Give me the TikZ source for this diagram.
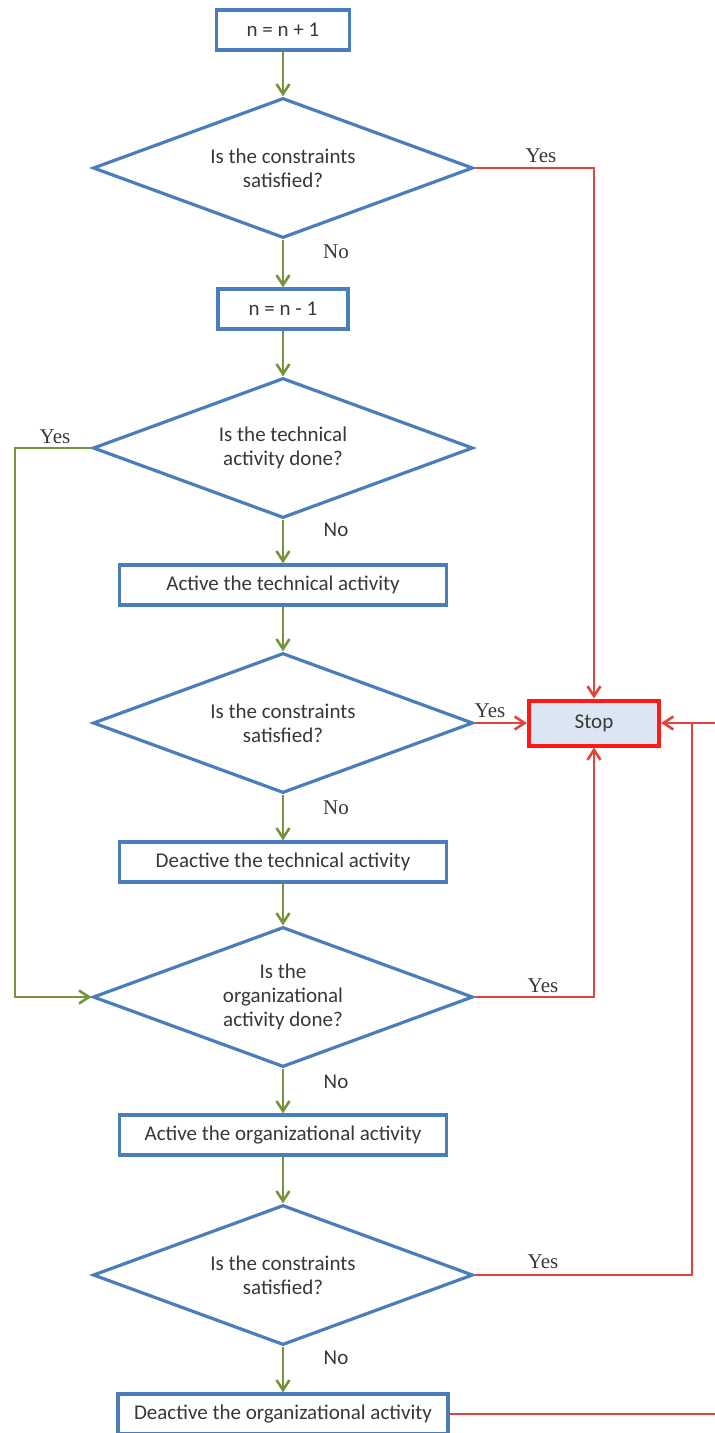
\documentclass[tikz,border=0pt]{standalone}
\usepackage{fontspec}
\setmainfont{Carlito}
\newfontfamily\lblserif{Liberation Serif}
\usetikzlibrary{arrows.meta,shapes.geometric}
\definecolor{cAzul}{HTML}{4A7EBB}
\definecolor{cVerd}{HTML}{77933C}
\definecolor{cVerm}{HTML}{E0443A}
\definecolor{cStop}{HTML}{FF1A1A}
\definecolor{cFundo}{HTML}{DCE6F2}
\definecolor{cTexto}{HTML}{383838}
\begin{document}
\begin{tikzpicture}[
  x=1pt,y=1pt,font=\fontsize{21}{24}\selectfont,text=cTexto,
  proc/.style={draw=cAzul,fill=white,line width=3.2pt,align=center,
               minimum height=40pt,inner sep=2pt},
  dec/.style={diamond,draw=cAzul,fill=white,line width=3.2pt,align=center,
              aspect=2.7,inner sep=0pt,minimum width=380pt,minimum height=140pt},
  stopbox/.style={draw=cStop,fill=cFundo,line width=4pt,align=center,
                  minimum width=130pt,minimum height=45pt},
  gar/.style={-{Straight Barb[length=10pt,width=13pt]},draw=cVerd,line width=2.6pt},
  rar/.style={-{Straight Barb[length=10pt,width=13pt]},draw=cVerm,line width=2.6pt},
  gln/.style={draw=cVerd,line width=2.6pt},
  rln/.style={draw=cVerm,line width=2.6pt},
  yes/.style={font=\lblserif\fontsize{21}{24}\selectfont,text=cTexto},
  no/.style={font=\fontsize{21}{24}\selectfont,text=cTexto}
]
\useasboundingbox (0,0) rectangle (715,-1433);

% ---- caixas
\node[proc,minimum width=133pt] (p1) at (283,-30)   {n = n + 1};
\node[dec] (d1) at (283,-168)  {Is the constraints\\ satisfied?};
\node[proc,minimum width=130pt] (p2) at (283,-309)  {n = n - 1};
\node[dec] (d2) at (283,-448)  {Is the technical\\ activity done?};
\node[proc,minimum width=327pt] (p3) at (283,-585)  {Active the technical activity};
\node[dec] (d3) at (283,-723)  {Is the constraints\\ satisfied?};
\node[proc,minimum width=327pt] (p4) at (283,-862)  {Deactive the technical activity};
\node[dec] (d4) at (283,-997)  {Is the\\ organizational\\ activity done?};
\node[proc,minimum width=327pt] (p5) at (283,-1135) {Active the organizational activity};
\node[dec] (d5) at (283,-1275) {Is the constraints\\ satisfied?};
\node[proc,minimum width=330pt] (p6) at (283,-1414) {Deactive the organizational activity};
\node[stopbox] (stop) at (594,-723) {Stop};

% ---- pontos auxiliares
\coordinate (gl) at (15,-448);
\coordinate (jr) at (692,-723);
\coordinate (re) at (715,-723);
\coordinate (rb) at (715,-1414);

% ---- setas verdes
\draw[gar] (p1) -- (d1);
\draw[gar] (d1) -- (p2);
\draw[gar] (p2) -- (d2);
\draw[gar] (d2) -- (p3);
\draw[gar] (p3) -- (d3);
\draw[gar] (d3) -- (p4);
\draw[gar] (p4) -- (d4);
\draw[gar] (d4) -- (p5);
\draw[gar] (p5) -- (d5);
\draw[gar] (d5) -- (p6);
\draw[gar] (d2.west) -- (gl) |- (d4.west);

% ---- setas vermelhas
\draw[rar] (d1.east) -| (stop.north);
\draw[rar] (d3.east) -- (stop.west);
\draw[rar] (d4.east) -| (stop.south);
\draw[rar] (re) -- (stop.east);
\draw[rln] (d5.east) -| (jr);
\draw[rln] (p6.east) -- (rb);

% ---- rotulos
\node[yes] (y1) at (541,-156)  {Yes};
\node[yes] (y2) at (55,-437)   {Yes};
\node[yes] (y3) at (490,-711)  {Yes};
\node[yes] (y4) at (543,-986)  {Yes};
\node[yes] (y5) at (543,-1262) {Yes};
\node[yes] (n1) at (336,-252)  {No};
\node[no]  (n2) at (336,-530)  {No};
\node[yes] (n3) at (336,-808)  {No};
\node[no]  (n4) at (336,-1082) {No};
\node[no]  (n5) at (336,-1358) {No};
\end{tikzpicture}
\end{document}
